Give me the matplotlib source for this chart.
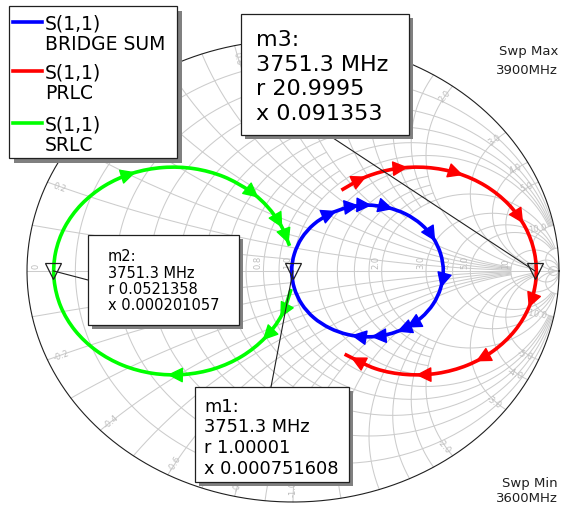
import numpy as np
import matplotlib.pyplot as plt
from matplotlib.patches import Rectangle, PathPatch
from matplotlib.path import Path

# S(1,1) traces, as reflection coefficient (re, im),
# in sweep order 3600 -> 3900 MHz
bridge_re = [0.565, 0.555, 0.527, 0.482, 0.423, 0.354, 0.280, 0.206, 0.138, 0.078, 0.033, 0.005,
             -0.005, 0.005, 0.033, 0.078, 0.138, 0.206, 0.280, 0.354, 0.423, 0.482, 0.527, 0.555, 0.565]
bridge_im = [0.0, -0.074, -0.143, -0.202, -0.247, -0.275, -0.285, -0.275, -0.247, -0.202, -0.143, -0.074,
             0.0, 0.074, 0.143, 0.202, 0.247, 0.275, 0.285, 0.275, 0.247, 0.202, 0.143, 0.074, 0.0]

prlc_re = [0.182, 0.275, 0.387, 0.504, 0.619, 0.723, 0.810, 0.873, 0.908,
           0.913, 0.888, 0.834, 0.754, 0.655, 0.543, 0.426, 0.311, 0.194]
prlc_im = [0.350, 0.408, 0.443, 0.448, 0.423, 0.369, 0.289, 0.190, 0.078,
           -0.039, -0.154, -0.258, -0.345, -0.408, -0.443, -0.448, -0.423, -0.360]

srlc_re = [-0.007, -0.042, -0.105, -0.192, -0.296, -0.411, -0.528, -0.640, -0.739, -0.819, -0.873, -0.898,
           -0.893, -0.858, -0.795, -0.708, -0.604, -0.489, -0.372, -0.260, -0.161, -0.095, -0.045, -0.013]
srlc_im = [-0.078, -0.190, -0.289, -0.369, -0.423, -0.448, -0.443, -0.408, -0.345, -0.258, -0.154, -0.039,
           0.078, 0.190, 0.289, 0.369, 0.423, 0.448, 0.443, 0.408, 0.345, 0.277, 0.197, 0.109]

series_names = ['BRIDGE SUM', 'PRLC', 'SRLC']
series_colors = ['#0000ff', '#ff0000', '#00ff00']

# markers (normalised impedance at the marker frequency)
marker_names = ['m1', 'm2', 'm3']
marker_freq = [3751.3, 3751.3, 3751.3]
marker_r = [1.00001, 0.0521358, 20.9995]
marker_x = [0.000751608, 0.000201057, 0.091353]

sweep_min, sweep_max = 3600, 3900

# picture geometry: chart centre and radii in pixels (the screenshot is stretched sideways)
W, H = 562, 506
CX, CY, SX, SY = 293, 272, 266, 231
FONT = 'DejaVu Sans'
GRID = '#cccccc'
LABEL = '#bdbdbd'


def P(xp, yp):
    # pixel position -> chart (gamma) coordinates
    return (xp - CX) / SX, (CY - yp) / SY


def gamma(z):
    return (z - 1) / (z + 1)


def r_arc(r, lim, n=300):
    t = np.linspace(-np.arctan(lim), np.arctan(lim), n)
    return gamma(r + 1j * np.tan(t))


def x_arc(x, lim, n=300):
    t = np.linspace(0, np.arctan(lim), n)
    return gamma(np.tan(t) + 1j * x)


def bezier_segments(re, im):
    # smooth curve through the read points (Catmull-Rom -> cubic Bezier)
    p = np.column_stack([re, im])
    if np.allclose(p[0], p[-1]):
        ext = np.vstack([p[-2], p, p[1]])
    else:
        ext = np.vstack([p[0], p, p[-1]])
    return [(ext[i + 1], ext[i + 1] + (ext[i + 2] - ext[i]) / 6,
             ext[i + 2] - (ext[i + 3] - ext[i + 1]) / 6, ext[i + 2]) for i in range(len(p) - 1)]


def bez(seg, t):
    a, b, c, d = seg
    pos = (1 - t) ** 3 * a + 3 * (1 - t) ** 2 * t * b + 3 * (1 - t) * t ** 2 * c + t ** 3 * d
    der = 3 * (1 - t) ** 2 * (b - a) + 6 * (1 - t) * t * (c - b) + 3 * t ** 2 * (d - c)
    return pos, der


fig = plt.figure(figsize=(W / 100, H / 100), dpi=100)
ax = fig.add_axes([0, 0, 1, 1])
ax.set_xlim(-CX / SX, (W - CX) / SX)
ax.set_ylim(-(H - CY) / SY, CY / SY)
ax.axis('off')

# boxes drawn over the chart (pixels: x0, y0, x1, y1)
legend_rect = (9, 7, 177, 159)
marker_rects = [(195, 388, 349, 483), (88, 236, 239, 326), (241, 15, 409, 136)]


def covered(xp, yp):
    return any(x0 - 3 <= xp <= x1 + 3 and y0 - 3 <= yp <= y1 + 3
               for x0, y0, x1, y1 in [legend_rect] + marker_rects)


# --- Smith chart grid (value, how far the line runs) ---
r_lines = [(0.1, 1), (0.2, 10), (0.3, 1), (0.4, 10), (0.5, 1), (0.6, 10), (0.7, 1), (0.8, 10),
           (0.9, 1), (1.0, 10), (1.2, 2), (1.4, 2), (1.6, 2), (1.8, 2), (2, 20), (3, 20), (4, 20),
           (5, 20), (10, np.inf), (20, np.inf), (50, np.inf)]
x_lines = [(0.1, 1), (0.2, 10), (0.3, 1), (0.4, 10), (0.5, 1), (0.6, 10), (0.7, 1), (0.8, 10),
           (0.9, 1), (1.0, 10), (1.2, 2), (1.4, 2), (1.6, 2), (1.8, 2), (2, 20), (3, 20), (4, 20),
           (5, 20), (10, np.inf), (20, np.inf)]
for v, lim in r_lines:
    g = r_arc(v, lim)
    ax.plot(g.real, g.imag, color=GRID, lw=0.75, zorder=1)
for v, lim in x_lines:
    for s in (1, -1):
        g = x_arc(s * v, lim)
        ax.plot(g.real, g.imag, color=GRID, lw=0.75, zorder=1)
ax.plot([-1, 1], [0, 0], color=GRID, lw=0.75, zorder=1)
th = np.linspace(0, 2 * np.pi, 400)
ax.plot(np.cos(th), np.sin(th), color='#202020', lw=0.8, zorder=2)

# real axis labels
real_labels = ['0', '0.2', '0.4', '0.6', '0.8', '1.0', '2.0', '3.0', '4.0', '5.0', '10']
for lab in real_labels:
    g = gamma(float(lab))
    xp = CX + g * SX - 1 if float(lab) > 0 else CX + g * SX + 14
    if covered(xp - 4, CY - 8):
        continue
    ax.text(*P(xp, CY - 3), lab, rotation=90, rotation_mode='anchor', ha='left', va='bottom',
            fontsize=6, color=LABEL, family=FONT, zorder=2)

# rim (reactance) labels
rim_vals = [0.2, 0.4, 0.6, 0.8, 1.0, 2.0, 3.0, 4.0, 5.0, 10.0]
for v in rim_vals + [-v for v in rim_vals]:
    g = gamma(1j * v) * 0.975
    if covered(CX + g.real * SX, CY - g.imag * SY):
        continue
    ang = np.degrees(np.arctan2(g.imag * SY, g.real * SX))
    if -90 < ang <= 90:
        rot, ha = ang, 'right'
    else:
        rot, ha = ang - 180, 'left'
    ax.text(g.real, g.imag, f'{v:.1f}', rotation=rot, rotation_mode='anchor',
            ha=ha, va='center', fontsize=6, color=LABEL, family=FONT, zorder=2)

# --- traces with direction arrows ---
traces = [(bridge_re, bridge_im), (prlc_re, prlc_im), (srlc_re, srlc_im)]
arrow_at = [[0.87, 3.83, 4.36, 5.7, 6.7, 16.27, 17.47, 18.1, 19.2, 22.1],
            [0.89, 2.27, 4.07, 6.73, 9.93, 12.57, 14.57, 16.6],
            [1.0, 2.0, 5.4, 16.0, 20.3, 22.0, 22.7]]
for (re, im), col, arrows in zip(traces, series_colors, arrow_at):
    segs = bezier_segments(re, im)
    verts = [segs[0][0]] + [q for s in segs for q in s[1:]]
    codes = [Path.MOVETO] + [Path.CURVE4] * (3 * len(segs))
    ax.add_patch(PathPatch(Path(verts, codes), facecolor='none', edgecolor=col, lw=2.6,
                           capstyle='butt', zorder=4))
    for s in arrows:
        pos, der = bez(segs[int(s)], s - int(s))
        ax.annotate('', xy=tuple(pos + 0.12 * der), xytext=tuple(pos - 0.12 * der),
                    arrowprops=dict(arrowstyle='-|>,head_length=0.8,head_width=0.4', color=col,
                                    lw=1, mutation_scale=12, shrinkA=0, shrinkB=0), zorder=5)

# marker triangles
marker_g = [gamma(r + 1j * x) for r, x in zip(marker_r, marker_x)]
for g in marker_g:
    ax.plot(g.real, g.imag, marker='v', ms=11, mfc='none', mec='#202020', mew=0.9, zorder=6)


def box(x0, y0, x1, y1, sh):
    ax.add_patch(Rectangle(P(x0 + sh, y1 + sh), (x1 - x0) / SX, (y1 - y0) / SY,
                           facecolor='#808080', edgecolor='none', zorder=7))
    ax.add_patch(Rectangle(P(x0, y1), (x1 - x0) / SX, (y1 - y0) / SY,
                           facecolor='white', edgecolor='#202020', lw=0.9, zorder=8))


# legend box
box(*legend_rect, 5)
leg_y = [23, 72, 124]
for name, col, y in zip(series_names, series_colors, leg_y):
    ax.plot(*zip(P(13, y), P(42, y)), color=col, lw=2.6, zorder=9)
    ax.text(*P(45, y + 6), 'S(1,1)', fontsize=13.5, family=FONT, va='baseline', zorder=9)
    ax.text(*P(45, y + 27), name, fontsize=13.5, family=FONT, va='baseline', zorder=9)

# marker boxes: (text left, first baseline, line step, font size, leader start)
marker_text = [(204, 411.5, 20.7, 12.8, (271, 388)),
               (108, 261, 16.5, 10.5, (88, 281)),
               (256, 46, 24.6, 16, (330, 137))]
for name, f, r, x, g, rect, (tx, ty, step, fs, lead) in zip(marker_names, marker_freq, marker_r, marker_x,
                                                             marker_g, marker_rects, marker_text):
    ax.plot(*zip(P(*lead), (g.real, g.imag)), color='#202020', lw=0.8, zorder=6)
    box(*rect, 4)
    lines = [f'{name}:', f'{f:g} MHz', f'r {r:g}', f'x {x:g}']
    for k, s in enumerate(lines):
        ax.text(*P(tx, ty + k * step), s, fontsize=fs, family=FONT, va='baseline', zorder=9)

# sweep limits
ax.text(*P(558, 55), 'Swp Max', fontsize=9.5, family=FONT, ha='right', va='baseline', color='#202020')
ax.text(*P(558, 74), f'{sweep_max}MHz', fontsize=9.5, family=FONT, ha='right', va='baseline', color='#202020')
ax.text(*P(558, 487), 'Swp Min', fontsize=9.5, family=FONT, ha='right', va='baseline', color='#202020')
ax.text(*P(558, 502), f'{sweep_min}MHz', fontsize=9.5, family=FONT, ha='right', va='baseline', color='#202020')

fig.savefig('out.png', dpi=100)
